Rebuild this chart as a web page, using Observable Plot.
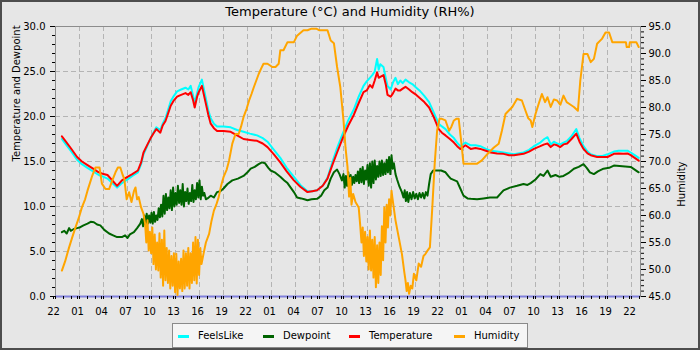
<!DOCTYPE html>
<html><head><meta charset="utf-8">
<script src="https://cdn.jsdelivr.net/npm/d3@7"></script>
<script src="https://cdn.jsdelivr.net/npm/@observablehq/plot@0.6"></script>
<style>
html,body{margin:0;padding:0;background:#e6e6e6;}
#wrap{position:relative;width:700px;height:350px;background:#e6e6e6;font-family:"DejaVu Sans",sans-serif;overflow:hidden;}
#title{position:absolute;left:0;top:4px;width:700px;text-align:center;font-size:13px;color:#000;}
#chart{position:absolute;left:0;top:0;}
#legend{position:absolute;left:172px;top:323px;width:354px;height:23px;background:#f5f5f5;border:1px solid #8a8a8a;font-size:10px;color:#000;}
.item{position:absolute;top:0;height:23px;line-height:23px;white-space:nowrap;}
.sw{position:absolute;top:11px;width:11px;height:3px;}
#border{position:absolute;left:0;top:0;width:700px;height:350px;box-sizing:border-box;border:2px solid #4d4d4d;pointer-events:none;}
</style>
</head><body>
<div id="wrap">
  <div id="title"></div>
  <div id="chart"></div>
  <div id="legend"></div>
  <div id="border"></div>
</div>
<script>
// ---- Text ----
const chartTitle = "Temperature (°C) and Humidity (RH%)";
const leftAxisLabel = "Temperature and Dewpoint";
const rightAxisLabel = "Humidity";
const seriesNames = ["FeelsLike", "Dewpoint", "Temperature", "Humidity"];
const seriesColors = ["#00ffff", "#006400", "#ff0000", "#ffa500"];

// ---- Axes / ticks ----
const startHour = 22;                 // x axis starts at 22:00
const hourSpan = [0, 73.125];         // hours since start
const hourLabelTicks = d3.range(0, 73, 3);
const hourMinorTicks = d3.range(0, 74, 1);
const tempTicks = [0, 5, 10, 15, 20, 25, 30];
const tempMinorTicks = d3.range(0, 31, 1);
const humidityTicks = [45, 50, 55, 60, 65, 70, 75, 80, 85, 90, 95];
const humidityMinorTicks = d3.range(45, 96, 1);
const humidityRange = [45, 95];

// ---- Temperature & FeelsLike (hours since start) ----
const tempHours = [0.8,1.3,1.9,2.7,3.3,4.0,4.7,5.4,6.0,6.5,7.1,7.7,8.3,9.0,9.6,10.3,10.7,11.0,11.5,11.9,12.3,12.6,13.1,13.4,13.75,14.1,14.4,14.8,15.2,15.7,16.25,16.6,16.9,17.2,17.4,17.7,17.9,18.3,18.75,19.1,19.4,19.8,20.2,21.0,21.9,22.7,23.5,24.3,25.2,25.9,26.5,27.3,28.1,28.9,29.8,30.6,31.5,32.1,32.7,33.4,34.0,34.6,35.2,35.9,36.6,37.3,37.9,38.5,38.9,39.3,39.6,39.9,40.2,40.4,40.6,41.0,41.3,41.5,41.9,42.2,42.5,42.8,43.1,43.4,43.75,44.2,44.6,45.1,45.6,46.1,46.7,47.3,47.9,48.3,48.75,49.3,49.8,50.2,50.6,51.25,51.9,52.5,53.1,53.8,54.4,55.2,56.0,56.7,57.3,58.5,59.2,59.8,60.6,61.1,61.5,61.9,62.3,62.7,63.1,63.5,63.96,64.5,65.1,65.5,66.0,66.5,66.9,67.7,68.3,69.0,69.8,70.4,71.0,71.5,71.9,72.4,72.9];
const temperature = [17.8,17.2,16.5,15.5,15.0,14.6,14.2,13.8,13.6,13.5,12.9,12.3,12.9,13.3,13.6,14.0,14.9,16.0,16.9,17.6,18.2,18.6,18.2,19.0,19.5,20.4,21.2,21.8,22.2,22.4,22.6,22.4,22.7,21.8,21.0,22.2,22.7,23.4,21.6,20.2,19.2,18.7,18.4,18.4,18.3,17.9,17.5,17.4,17.3,17.0,16.6,15.8,14.9,13.9,12.9,12.2,11.6,11.7,11.8,12.3,13.1,14.6,16.0,17.6,19.0,20.2,21.5,22.7,22.9,23.5,23.2,24.0,24.9,24.3,24.4,24.6,23.5,22.4,22.2,22.6,23.1,22.9,22.9,23.1,23.3,23.0,22.7,22.4,22.0,21.6,21.0,19.9,18.6,18.2,17.9,17.5,17.1,16.7,16.4,16.8,16.4,16.5,16.4,16.2,16.0,15.9,15.85,15.7,15.7,15.85,16.1,16.4,16.7,16.9,17.0,16.6,16.9,16.8,16.6,16.9,17.0,17.5,18.1,17.2,16.4,15.9,15.7,15.5,15.5,15.5,15.85,15.9,15.85,15.9,15.7,15.4,15.1];
const feelsLike = [17.5,16.9,16.2,15.2,14.7,14.3,13.9,13.5,13.3,13.1,12.6,12.1,12.6,13.0,13.4,13.8,14.7,15.8,16.8,17.6,18.3,18.8,18.5,19.2,19.8,20.8,21.7,22.3,22.8,23.0,23.2,23.0,23.4,22.3,21.5,22.6,23.3,24.1,22.2,20.7,19.8,19.2,18.9,18.9,18.8,18.5,18.3,18.1,17.9,17.6,17.2,16.3,15.4,14.3,13.3,12.4,11.7,11.7,11.8,12.3,13.2,14.9,16.5,18.1,19.6,20.8,22.2,23.4,23.9,24.3,24.6,25.0,26.4,25.2,25.8,25.5,24.2,23.4,23.0,23.8,24.3,23.6,24.0,23.7,24.1,23.8,23.6,23.2,22.8,22.3,21.6,20.4,19.2,18.9,18.6,18.0,17.6,17.1,16.7,17.1,16.8,16.8,16.7,16.4,16.2,16.1,16.0,15.9,15.8,16.0,16.3,16.7,17.1,17.5,17.7,16.9,17.2,17.0,16.9,17.1,17.3,17.8,18.6,17.6,16.7,16.1,15.8,15.6,15.6,15.8,16.1,16.2,16.2,16.2,16.0,15.7,15.4];

// ---- Dewpoint ----
const dewHours = [0.8,1.1,1.4,1.7,1.9,2.3,2.7,3.1,3.5,4.0,4.4,4.8,5.2,5.6,6.1,6.7,7.2,7.7,8.3,8.7,9.0,9.3,9.8,10.2,10.6,10.8,10.95,11.1,11.25,11.4,11.55,11.7,11.85,12.0,12.15,12.3,12.45,12.6,12.75,12.9,13.05,13.2,13.35,13.5,13.65,13.8,13.95,14.1,14.25,14.4,14.55,14.7,14.85,15.0,15.15,15.3,15.45,15.6,15.75,15.9,16.05,16.2,16.35,16.5,16.65,16.8,16.95,17.1,17.25,17.4,17.55,17.7,17.85,18.0,18.15,18.3,18.45,18.6,18.8,19.0,19.4,19.8,20.2,20.6,21.0,21.5,22.1,22.8,23.5,24.0,24.4,24.9,25.4,25.8,26.2,26.6,26.9,27.4,28.1,28.6,29.0,29.4,29.8,30.2,30.7,31.1,31.5,32.0,32.7,33.2,33.6,34.0,34.4,34.8,35.2,35.5,35.8,36.0,36.15,36.3,36.45,36.6,36.75,36.9,37.05,37.2,37.35,37.5,37.65,37.8,37.95,38.1,38.25,38.4,38.55,38.7,38.85,39.0,39.15,39.3,39.45,39.6,39.75,39.9,40.05,40.2,40.35,40.5,40.65,40.8,40.95,41.1,41.25,41.4,41.55,41.7,41.85,42.0,42.15,42.3,42.5,42.7,43.0,43.3,43.5,43.65,43.8,43.95,44.1,44.3,44.5,44.7,44.9,45.1,45.3,45.5,45.7,45.9,46.1,46.3,46.5,46.7,46.9,47.2,47.7,48.2,48.75,49.1,49.4,50.2,50.6,51.0,51.5,51.9,52.7,53.5,54.3,55.2,55.6,56.0,56.8,57.7,58.5,59.0,59.4,60.0,60.6,61.0,61.5,61.9,62.5,63.0,63.5,64.1,64.8,65.4,66.0,66.4,66.8,67.3,67.8,68.5,69.2,69.8,70.5,71.2,71.9,72.4,72.9];
const dewpoint = [7.15,7.3,7.0,7.6,7.3,7.5,7.6,7.7,7.9,8.1,8.3,8.25,8.0,7.9,7.4,7.0,6.8,6.6,6.6,6.8,6.5,6.9,7.15,7.6,8.1,8.6,7.8,9.0,8.0,9.2,8.1,9.0,8.2,9.3,8.1,9.4,8.3,9.0,8.5,9.8,8.8,10.2,8.9,11.2,9.2,11.4,9.6,11.0,9.8,11.8,9.6,12.1,10.0,11.5,10.2,12.3,10.4,11.8,10.2,12.5,10.0,11.6,10.6,12.0,10.3,11.5,10.6,12.4,10.5,11.8,10.8,12.6,11.0,12.9,10.8,12.2,11.2,11.5,10.8,10.9,11.2,11.0,11.6,11.7,12.0,12.5,12.9,13.1,13.4,13.8,14.2,14.4,14.7,14.9,14.8,14.3,14.0,13.8,13.3,12.9,12.6,12.1,11.6,11.0,10.9,10.8,10.7,10.8,10.85,11.2,11.8,12.1,13.1,13.8,14.1,13.6,12.9,13.6,12.1,13.4,12.3,13.8,12.0,13.5,12.4,13.3,12.6,13.5,12.8,13.9,12.6,14.2,12.7,14.4,12.5,14.0,13.0,14.6,12.3,14.8,12.1,15.0,12.6,15.1,13.0,14.5,13.3,15.0,13.4,15.1,13.5,14.8,13.6,15.2,13.8,15.5,13.6,15.7,14.2,14.8,13.6,13.0,12.2,11.6,11.0,11.8,10.6,11.6,10.5,11.5,10.8,11.6,10.9,11.4,10.8,11.5,11.0,11.5,10.9,11.6,11.2,12.5,13.6,14.0,14.0,14.0,13.8,13.4,13.1,12.8,12.0,11.2,10.9,10.85,10.8,10.9,11.0,11.0,11.4,11.8,12.1,12.3,12.5,12.4,12.6,13.0,13.6,13.4,14.0,13.3,13.5,13.3,13.4,13.7,14.2,14.4,14.7,14.3,13.8,13.6,13.9,14.2,14.3,14.55,14.5,14.45,14.4,14.1,13.8];

// ---- Humidity (RH%) ----
const humidityHours = [0.8,1.2,1.7,2.1,2.5,2.9,3.3,3.7,4.0,4.3,4.6,5.0,5.5,5.8,6.25,6.7,7.1,7.5,7.8,8.1,8.4,8.6,8.9,9.2,9.5,9.8,10.0,10.2,10.4,10.7,11.0,11.2,11.35,11.5,11.65,11.8,11.95,12.1,12.25,12.4,12.55,12.7,12.85,13.0,13.15,13.3,13.45,13.6,13.75,13.9,14.05,14.2,14.35,14.5,14.65,14.8,14.95,15.1,15.25,15.4,15.55,15.7,15.85,16.0,16.15,16.3,16.45,16.6,16.75,16.9,17.05,17.2,17.35,17.5,17.65,17.8,17.95,18.1,18.25,18.5,18.8,19.2,19.5,19.8,20.1,20.4,20.7,21.0,21.4,21.7,22.1,22.5,22.9,23.2,23.5,23.9,24.2,24.5,24.8,25.1,25.4,25.7,26.0,26.5,27.1,27.5,27.9,28.1,28.5,29.0,29.8,30.2,31.0,31.5,32.0,32.6,33.0,34.0,34.4,34.8,35.2,35.6,36.0,36.25,36.5,36.7,36.85,37.0,37.2,37.5,37.9,38.1,38.25,38.4,38.55,38.7,38.85,39.0,39.15,39.3,39.45,39.6,39.75,39.9,40.05,40.2,40.35,40.5,40.65,40.8,40.95,41.1,41.25,41.4,41.55,41.7,41.85,42.0,42.1,42.5,42.9,43.3,43.6,43.75,43.9,44.05,44.2,44.4,44.6,44.8,45.1,45.4,45.7,46.0,46.25,46.5,46.8,47.1,47.4,47.7,48.0,48.3,48.75,49.2,49.5,49.8,50.1,50.4,50.7,51.0,51.9,52.7,53.3,54.0,54.8,55.4,55.8,56.25,56.7,57.1,57.7,58.3,58.75,59.1,59.4,59.6,60.0,60.4,60.8,61.2,61.5,61.9,62.3,62.7,63.1,63.5,63.9,64.2,64.8,65.3,65.6,66.0,66.5,66.9,67.3,67.7,68.3,68.75,69.2,69.6,70.6,71.3,71.4,71.7,71.8,72.6,72.9];
const humidity = [49.8,51.5,54.1,56.0,57.8,59.5,61.5,63.0,64.6,66.0,67.4,68.9,68.9,65.9,64.9,64.9,66.5,68.0,68.9,68.9,67.5,66.8,63.0,64.3,62.5,64.5,65.2,63.0,63.4,61.5,60.3,58.5,55.0,59.1,53.5,57.0,53.0,57.8,51.0,56.5,50.0,55.0,49.8,56.7,48.5,55.5,47.0,57.2,48.0,54.0,47.5,53.5,46.5,52.5,47.0,53.0,45.8,52.9,45.3,51.5,46.5,52.0,46.0,53.5,46.5,53.0,47.0,54.0,46.5,53.0,47.5,55.0,48.0,56.0,47.4,55.5,49.0,54.0,51.0,52.9,55.0,56.6,59.0,60.9,62.0,63.4,65.5,67.1,68.5,70.2,73.3,75.1,75.1,76.5,78.2,79.8,81.3,82.5,83.8,85.0,86.2,87.2,88.1,88.1,87.5,87.5,88.1,90.6,90.6,92.1,92.1,93.3,94.3,94.3,94.6,94.6,94.3,94.3,92.4,91.9,87.5,83.8,77.6,72.6,69.0,63.5,67.0,62.0,64.0,62.5,61.5,58.0,55.0,57.8,52.5,57.0,51.5,56.0,50.0,57.2,49.8,55.5,48.5,56.0,46.7,54.5,47.5,55.0,49.0,58.0,51.7,61.5,55.0,62.0,57.8,63.0,60.0,64.6,63.4,59.1,56.0,52.9,49.5,48.0,46.0,47.5,45.5,47.0,46.5,49.2,48.0,51.1,50.5,52.5,52.9,53.5,54.1,61.5,69.6,75.7,77.9,77.9,77.6,75.7,76.5,77.6,77.9,77.9,73.9,69.6,69.6,69.6,70.2,71.4,72.6,73.3,75.7,78.8,79.5,80.1,81.6,81.3,79.4,78.0,77.6,76.4,78.8,80.7,82.5,81.0,81.9,80.1,81.5,81.3,80.5,82.2,81.0,80.7,80.1,79.4,85.0,89.9,89.9,88.4,89.0,91.8,92.7,93.9,93.9,92.1,92.1,92.1,91.2,91.2,92.1,92.1,91.2];

// ---- Baseline series (zero line at bottom) ----
const baseline = [0];

// map humidity onto the temperature scale
const hToY = h => (h - humidityRange[0]) * 30 / (humidityRange[1] - humidityRange[0]);
const yToH = y => humidityRange[0] + y * (humidityRange[1] - humidityRange[0]) / 30;
const hourLabel = d => String((startHour + d) % 24).padStart(2, "0");

const gridColor = "#b4b4b4";
const plot = Plot.plot({
  width: 700,
  height: 318,
  marginLeft: 55,
  marginRight: 60,
  marginTop: 26,
  marginBottom: 22,
  style: "background: transparent; font-family: 'DejaVu Sans', sans-serif; font-size: 10px; overflow: visible;",
  x: {domain: hourSpan},
  y: {domain: [0, 30]},
  marks: [
    Plot.gridY(tempTicks.slice(1, -1), {stroke: gridColor, strokeOpacity: 1, strokeDasharray: "5,3"}),
    Plot.gridX(hourLabelTicks.slice(1), {stroke: gridColor, strokeOpacity: 1, strokeDasharray: "5,3"}),
    Plot.frame({stroke: "#8c8c8c"}),
    Plot.ruleY(baseline, {stroke: "#8080dc", strokeWidth: 2}),
    Plot.line(feelsLike, {x: (d, i) => tempHours[i], y: d => d, stroke: seriesColors[0], strokeWidth: 2}),
    Plot.line(dewpoint, {x: (d, i) => dewHours[i], y: d => d, stroke: seriesColors[1], strokeWidth: 2}),
    Plot.line(temperature, {x: (d, i) => tempHours[i], y: d => d, stroke: seriesColors[2], strokeWidth: 2}),
    Plot.line(humidity, {x: (d, i) => humidityHours[i], y: d => hToY(d), stroke: seriesColors[3], strokeWidth: 2}),
    // x axis
    Plot.axisX({ticks: hourMinorTicks, tickSize: 3, tickFormat: () => "", label: null}),
    Plot.axisX({ticks: hourLabelTicks, tickSize: 3, tickPadding: 8, tickFormat: hourLabel, label: null, fontSize: 10, dx: -2}),
    // left axis
    Plot.axisY({anchor: "left", ticks: tempMinorTicks, tickSize: 3, tickFormat: () => "", label: null}),
    Plot.axisY({anchor: "left", ticks: tempTicks, tickSize: 5, tickPadding: 5, tickFormat: d => d.toFixed(1), label: null, fontSize: 10}),
    // right axis
    Plot.axisY({anchor: "right", ticks: humidityMinorTicks.map(hToY), tickSize: 3, tickFormat: () => "", label: null}),
    Plot.axisY({anchor: "right", ticks: humidityTicks.map(hToY), tickSize: 5, tickPadding: 3, tickFormat: d => yToH(d).toFixed(1), label: null, fontSize: 10}),
    Plot.text([leftAxisLabel], {frameAnchor: "left", dx: -39, rotate: -90, fontSize: 10, fill: "#000"}),
    Plot.text([rightAxisLabel], {frameAnchor: "right", dx: 41, rotate: -90, fontSize: 10, fill: "#000"})
  ]
});
document.getElementById("chart").appendChild(plot);
document.getElementById("title").textContent = chartTitle;

// legend
const legendSwatchX = [5, 90, 176, 281];
const legend = document.getElementById("legend");
seriesNames.forEach((name, i) => {
  const sw = document.createElement("div");
  sw.className = "sw";
  sw.style.left = legendSwatchX[i] + "px";
  sw.style.background = seriesColors[i];
  legend.appendChild(sw);
  const t = document.createElement("div");
  t.className = "item";
  t.style.left = (legendSwatchX[i] + 20) + "px";
  t.textContent = name;
  legend.appendChild(t);
});
</script>
</body></html>
